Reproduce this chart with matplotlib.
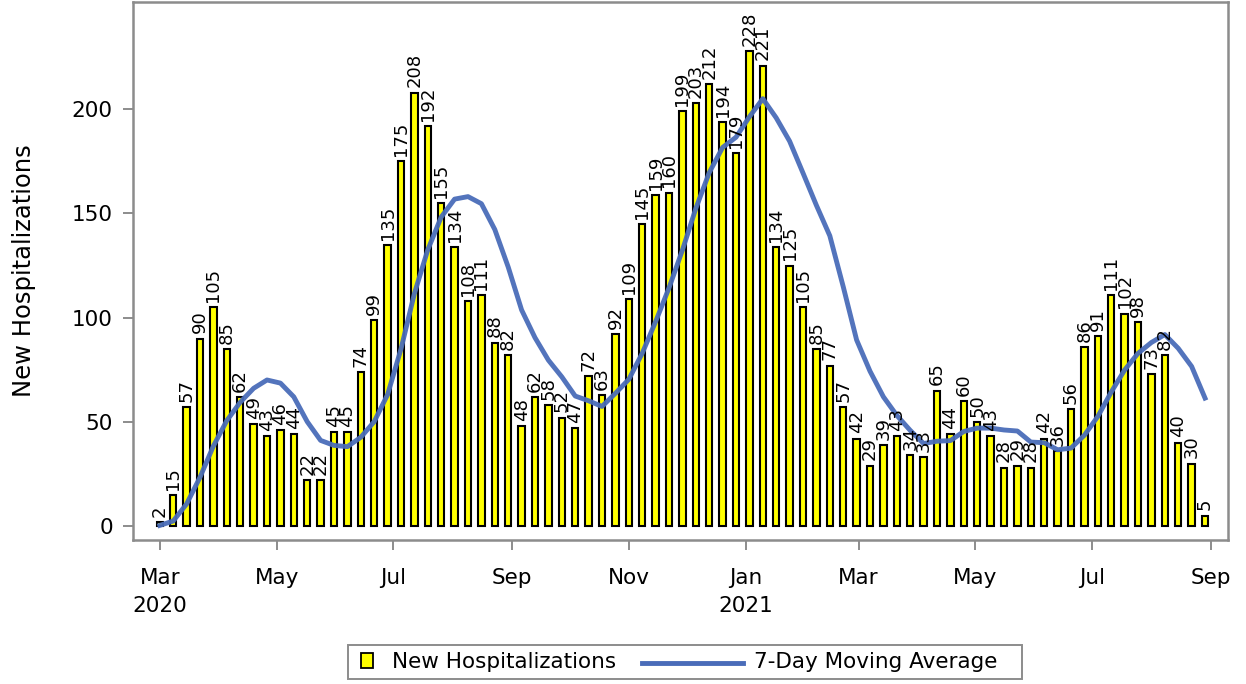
import matplotlib
matplotlib.use("Agg")
import matplotlib.pyplot as plt
from matplotlib.patches import Rectangle
from matplotlib.lines import Line2D
import datetime

# weekly new hospitalizations, first week starts 2020-03-01
start = datetime.date(2020, 3, 1)
new_hosp = [2, 15, 57, 90, 105, 85, 62, 49, 43, 46, 44, 22, 22, 45, 45, 74, 99,
            135, 175, 208, 192, 155, 134, 108, 111, 88, 82, 48, 62, 58, 52, 47,
            72, 63, 92, 109, 145, 159, 160, 199, 203, 212, 194, 179, 228, 221,
            134, 125, 105, 85, 77, 57, 42, 29, 39, 43, 34, 33, 65, 44, 60, 50,
            43, 28, 29, 28, 42, 36, 56, 86, 91, 111, 102, 98, 73, 82, 40, 30, 5]

# moving average line
moving_avg = [0.3, 2.4, 10.6, 23.4, 38.4, 50.6, 59.4, 66.1, 70.1, 68.6, 62.0,
              50.1, 41.1, 38.7, 38.1, 42.6, 50.1, 63.1, 85.0, 111.6, 132.6,
              148.3, 156.9, 158.1, 154.7, 142.3, 124.3, 103.7, 90.4, 79.6,
              71.6, 62.4, 60.1, 57.4, 63.7, 70.4, 82.9, 98.1, 114.3, 132.4,
              152.4, 169.6, 181.7, 186.6, 196.4, 205.1, 195.9, 184.7, 169.4,
              153.9, 139.3, 114.9, 89.3, 74.3, 62.0, 53.1, 45.9, 39.6, 40.7,
              41.0, 45.4, 47.0, 47.0, 46.1, 45.6, 40.3, 40.0, 36.6, 37.4,
              43.6, 52.6, 64.3, 74.9, 82.9, 88.1, 91.9, 85.3, 76.6, 61.4]

weeks = [start + datetime.timedelta(days=7 * i) for i in range(len(new_hosp))]

tick_dates = [datetime.date(2020, 3, 1), datetime.date(2020, 5, 1), datetime.date(2020, 7, 1),
              datetime.date(2020, 9, 1), datetime.date(2020, 11, 1), datetime.date(2021, 1, 1),
              datetime.date(2021, 3, 1), datetime.date(2021, 5, 1), datetime.date(2021, 7, 1),
              datetime.date(2021, 9, 1)]
tick_labels = ['Mar\n2020', 'May', 'Jul', 'Sep', 'Nov', 'Jan\n2021', 'Mar', 'May', 'Jul', 'Sep']

bar_color = '#ffff00'
line_color = '#4a6cb9'
frame_color = '#8c8c8c'

plt.rcParams['font.family'] = ['DejaVu Sans']

W, H = 1246, 684
fig = plt.figure(figsize=(W / 100, H / 100), dpi=100)
ax = fig.add_axes([133 / W, 1 - 540 / H, (1228 - 133) / W, (540 - 2) / H])

ax.bar(weeks, new_hosp, width=3.3, color=bar_color, edgecolor='black',
       linewidth=1.5, zorder=2)
ax.plot(weeks, moving_avg, color=line_color, linewidth=3.5, zorder=3, alpha=0.95)

for d, v in zip(weeks, new_hosp):
    ax.text(d, v + 2.5, str(v), rotation=90, ha='center', va='bottom',
            fontsize=13, color='black', zorder=4)

ax.set_xlim(datetime.date(2020, 2, 16), datetime.date(2021, 9, 10))
ax.set_ylim(-6.7, 251.5)
ax.set_yticks([0, 50, 100, 150, 200])
ax.set_xticks(tick_dates)
ax.set_xticklabels(tick_labels)
for lab in ax.get_xticklabels():
    lab.set_linespacing(1.5)

for s in ax.spines.values():
    s.set_color(frame_color)
    s.set_linewidth(1.8)

ax.tick_params(axis='both', colors=frame_color, labelcolor='black', labelsize=15.5,
               length=7.5, width=1.4)
ax.tick_params(axis='x', pad=13)
ax.tick_params(axis='y', pad=7)
ax.set_ylabel('New Hospitalizations', fontsize=17.5)
ax.yaxis.set_label_coords(-0.0885, 0.5)


# legend drawn by hand (pixel positions from the reference)
def fx(px):
    return px / W


def fy(py):
    return 1 - py / H


fig.add_artist(Rectangle((fx(348), fy(679)), fx(1022) - fx(348), fy(645) - fy(679),
                         transform=fig.transFigure, facecolor='white',
                         edgecolor=frame_color, linewidth=1.4))
fig.add_artist(Rectangle((fx(361), fy(668)), fx(373) - fx(361), fy(653) - fy(668),
                         transform=fig.transFigure, facecolor=bar_color,
                         edgecolor='black', linewidth=1.3))
fig.text(fx(392), fy(662), 'New Hospitalizations', fontsize=15.5, va='center', ha='left')
fig.add_artist(Line2D([fx(642), fx(743)], [fy(663), fy(663)], transform=fig.transFigure,
                      color=line_color, linewidth=3.5))
fig.text(fx(754), fy(662), '7-Day Moving Average', fontsize=15.5, va='center', ha='left')

fig.savefig('out.png', dpi=100)
